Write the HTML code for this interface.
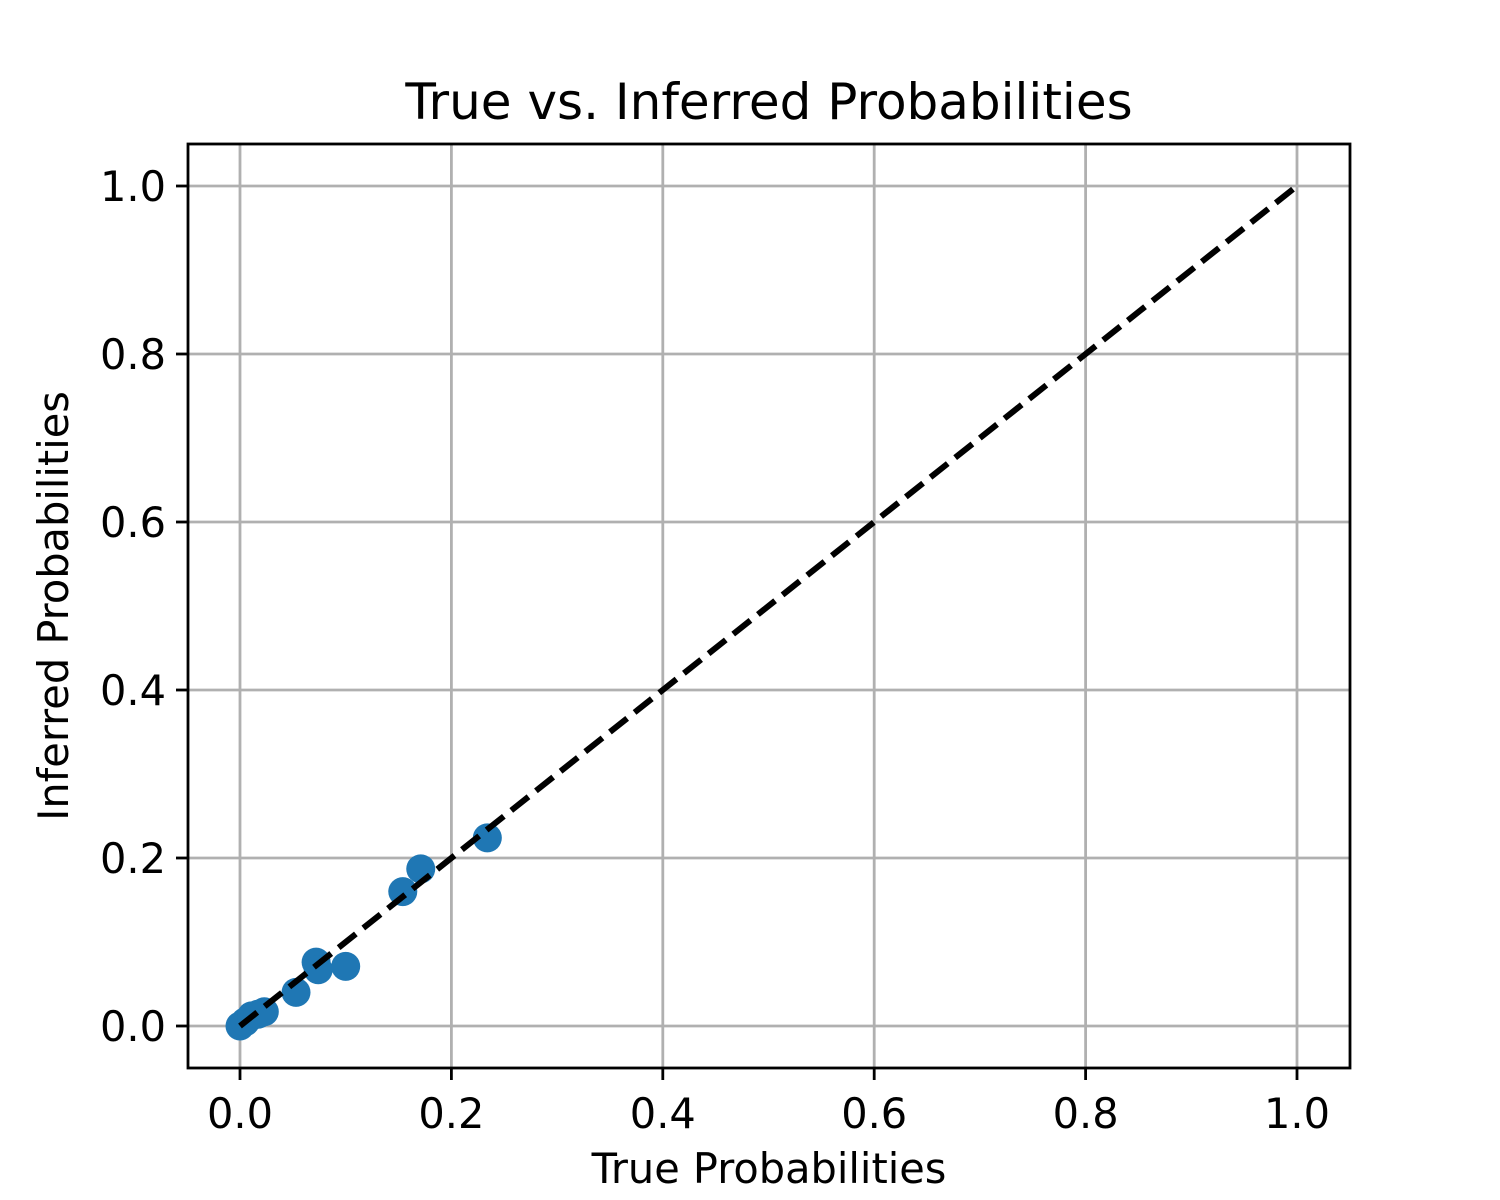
<!DOCTYPE html>
<html><head><meta charset="utf-8"><style>body{margin:0;background:#fff}svg{display:block}text{font-family:"DejaVu Sans","Liberation Sans",sans-serif;fill:#000}</style></head>
<body>
<svg id="chart" width="1500" height="1200" viewBox="0 0 1500 1200">
<g id="grid"></g>
<g id="marks"></g>
<g id="axes"></g>
</svg>
<script>
const trueProbs = [0, 0.005, 0.011, 0.017, 0.023, 0.053, 0.072, 0.074, 0.100, 0.154, 0.171, 0.234];
const inferredProbs = [0, 0.005, 0.012, 0.014, 0.017, 0.040, 0.076, 0.067, 0.071, 0.160, 0.187, 0.224];
const xTicks = [0.0, 0.2, 0.4, 0.6, 0.8, 1.0];
const yTicks = [0.0, 0.2, 0.4, 0.6, 0.8, 1.0];
const tickLabels = ["0.0","0.2","0.4","0.6","0.8","1.0"];
const diagonal = [0, 1];

const L=188,R=1350,T=144,B=1068;
const xs=v=>240+v*1057, ys=v=>1026-v*840;
const NS="http://www.w3.org/2000/svg";
function mk(tag,attrs,parent){const e=document.createElementNS(NS,tag);for(const k in attrs)e.setAttribute(k,attrs[k]);parent.appendChild(e);return e;}
const grid=document.getElementById('grid'),marks=document.getElementById('marks'),axes=document.getElementById('axes');
xTicks.forEach((t,i)=>{
  let g=mk('line',{x1:xs(t),x2:xs(t),y1:T,y2:B,stroke:'#b0b0b0','stroke-width':2.8},grid);
  
  
  mk('line',{x1:xs(t),x2:xs(t),y1:B,y2:B+12,stroke:'#000','stroke-width':2.8},axes);
  let tx=mk('text',{x:xs(t),y:B+60,'font-size':41.5,'text-anchor':'middle'},axes);tx.textContent=tickLabels[i];
  
  
});
yTicks.forEach((t,i)=>{
  let g=mk('line',{x1:L,x2:R,y1:ys(t),y2:ys(t),stroke:'#b0b0b0','stroke-width':2.8},grid);
  
  
  mk('line',{x1:L-12,x2:L,y1:ys(t),y2:ys(t),stroke:'#000','stroke-width':2.8},axes);
  let tx=mk('text',{x:L-22,y:ys(t)+15,'font-size':41.5,'text-anchor':'end'},axes);tx.textContent=tickLabels[i];
  
  
});
trueProbs.forEach((v,i)=>{
  let c=mk('circle',{cx:xs(v),cy:ys(inferredProbs[i]),r:14.5,fill:'#1f77b4'},marks);
  
  
});
let dl=mk('line',{x1:xs(diagonal[0]),y1:ys(diagonal[0]),x2:xs(diagonal[1]),y2:ys(diagonal[1]),stroke:'#000','stroke-width':6,'stroke-dasharray':'22 9.5'},marks);


let fr=mk('rect',{x:L,y:T,width:R-L,height:B-T,fill:'none',stroke:'#000','stroke-width':2.8},axes);


let ti=mk('text',{x:769,y:119,'font-size':50,'text-anchor':'middle'},axes);ti.textContent='True vs. Inferred Probabilities';


let xl=mk('text',{x:769,y:1183,'font-size':41.5,'text-anchor':'middle'},axes);xl.textContent='True Probabilities';


let yl=mk('text',{x:0,y:0,'font-size':41.5,'text-anchor':'middle',transform:'translate(68,606) rotate(-90)'},axes);yl.textContent='Inferred Probabilities';


</script>
</body></html>
